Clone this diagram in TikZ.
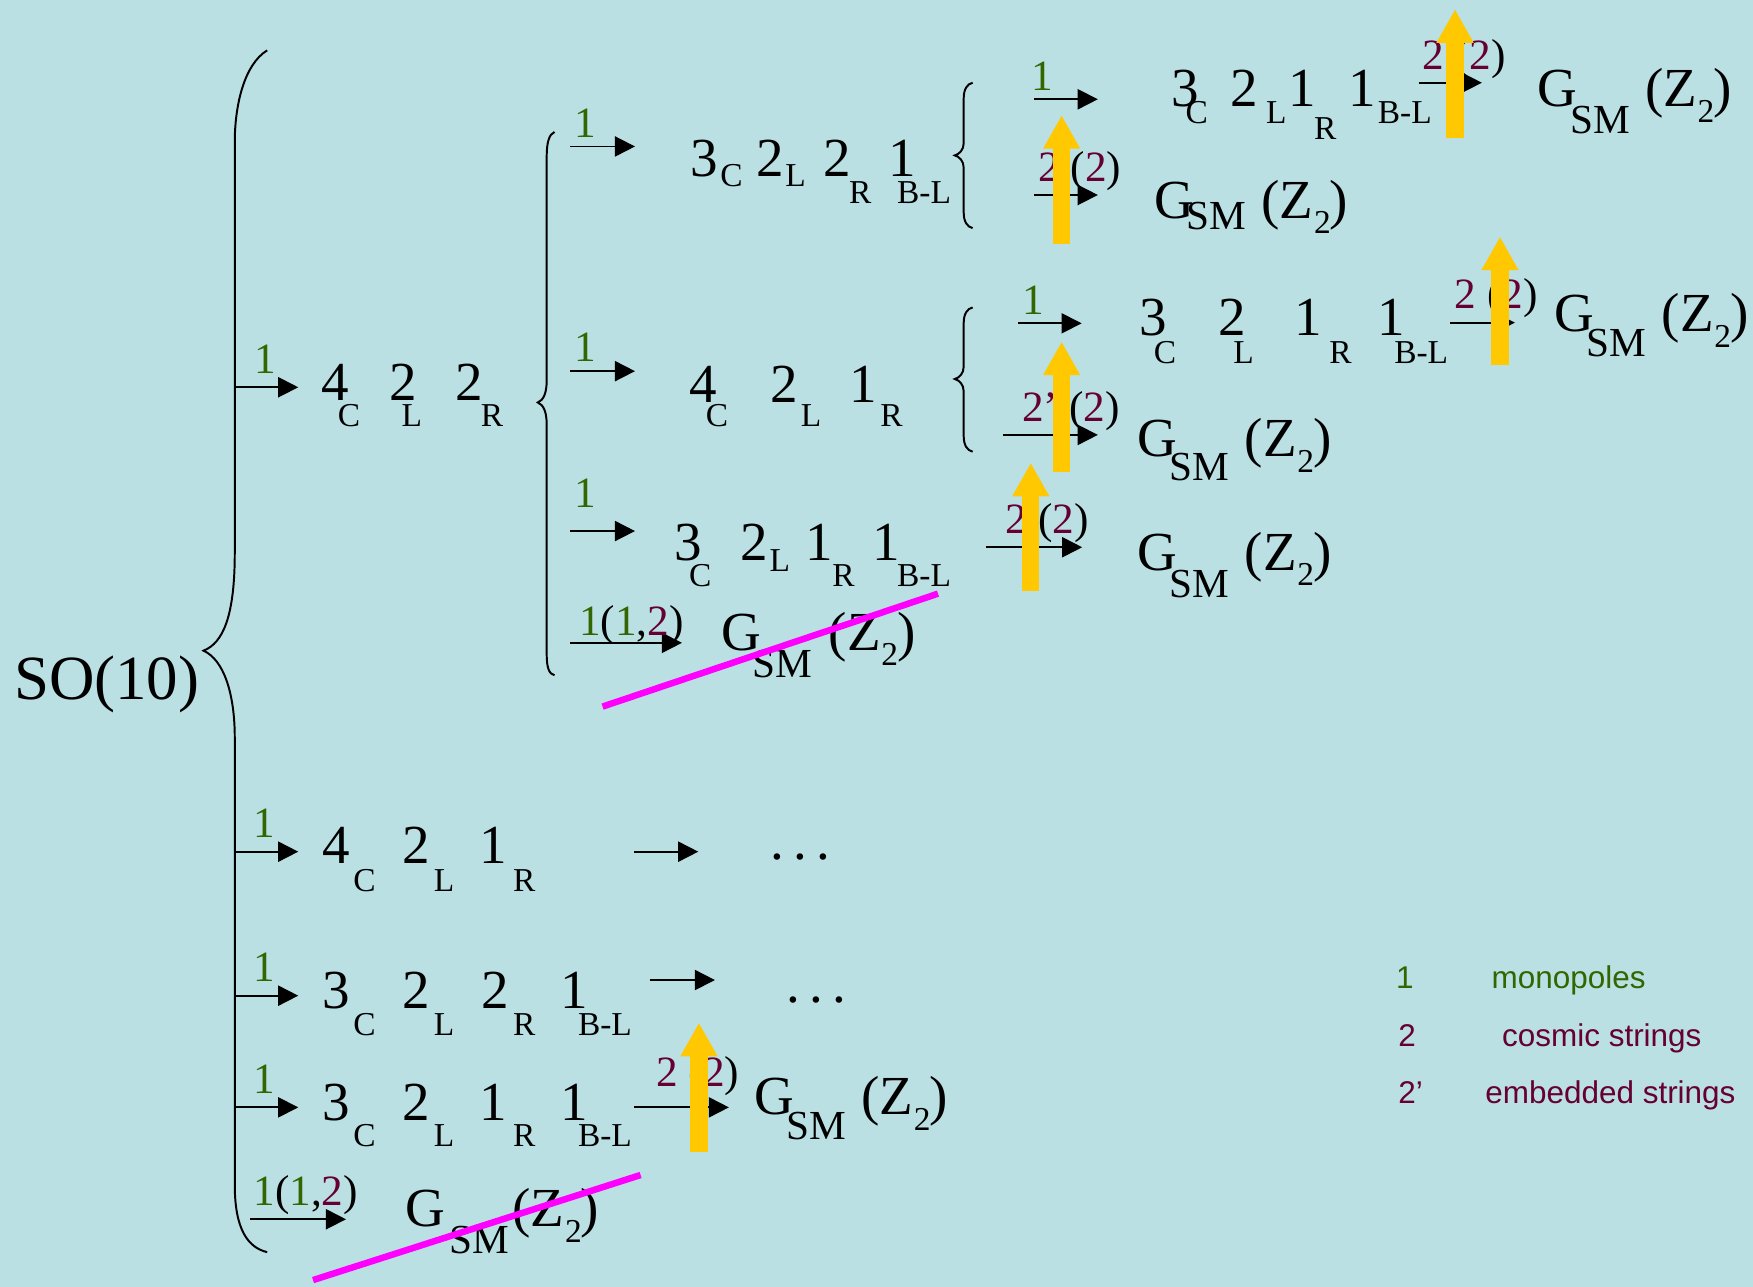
\documentclass[tikz,border=0pt]{standalone}
\usepackage{fontspec}
\setmainfont{Liberation Serif}
\setsansfont{Liberation Sans}
\usepackage{tikz}
\usetikzlibrary{arrows.meta}
\definecolor{bg}{RGB}{186,224,228}
\definecolor{mono}{RGB}{51,102,0}
\definecolor{strg}{RGB}{102,0,51}
\definecolor{warn}{RGB}{255,200,0}
\definecolor{strike}{RGB}{255,0,255}

\newdimen\pxu \pxu=0.01cm
\newcommand{\mainf}{\fontsize{14}{16}\selectfont}
\newcommand{\subf}{\fontsize{8.5}{9}\selectfont}
\newcommand{\smf}{\fontsize{10.5}{12}\selectfont}
\newcommand{\labf}{\fontsize{11}{13}\selectfont}
% glyph at offset (x, raise) from the node's base point
\newcommand{\atx}[3]{\rlap{\hspace*{#1\pxu}\raisebox{#2\pxu}{#3}}}
% digit with a lowered group label
\newcommand{\dg}[5]{\atx{#1}{0}{#2}\atx{#3}{-#4}{\subf #5}}
\newcommand{\gsm}[2][29]{\atx{0}{0}{G}\atx{#1}{-#2}{\smf SM}\atx{96}{0}{(Z}\atx{143}{-14}{\subf 2}\atx{157}{0}{)}}
\newcommand{\mlab}{\textcolor{mono}{1}}
\newcommand{\slab}[1][2]{\textcolor{strg}{#1} (\textcolor{strg}{2})}
\newcommand{\blab}{\textcolor{mono}{1}(\textcolor{mono}{1},\textcolor{strg}{2})}

\begin{document}
\begin{tikzpicture}[x=0.01cm, y=-0.01cm,
  grp/.style={anchor=base west, inner sep=0pt, font=\mainf},
  lab/.style={anchor=base west, inner sep=0pt, font=\labf},
  key/.style={anchor=base west, inner sep=0pt, font=\sffamily\fontsize{8}{9}\selectfont},
  arr/.style={-{Triangle[length=0.18cm,width=0.18cm]}, line width=0.45pt},
  brace/.style={line width=0.5pt},
  up/.style={-{Triangle[length=0.3cm,width=0.31cm]}, line width=0.155cm, draw=warn},
  cross/.style={line width=0.058cm, draw=strike},
]
\useasboundingbox (0,0) rectangle (1568,1151);
\fill[bg] (0,0) rectangle (1568,1151);

\node[grp, font=\fontsize{16}{18}\selectfont] (so10) at (12,625.8) {SO(10)};

% braces
\draw[brace] (239,45) .. controls (218,58) and (210,95) .. (210,127) -- (210,494)
  .. controls (210,550) and (200,575) .. (182,582) .. controls (200,590) and (210,620) .. (210,660)
  -- (210,1060) .. controls (210,1100) and (222,1116) .. (239,1120);
\draw[brace] (496,118) .. controls (491,120) and (489,128) .. (489,140) -- (489,340)
  .. controls (489,352) and (486,358) .. (481,360) .. controls (486,362) and (489,368) .. (489,380)
  -- (489,585) .. controls (489,597) and (491,603) .. (496,604);
\draw[brace] (870,74) .. controls (865,75) and (862,80) .. (862,88) -- (862,128)
  .. controls (862,134) and (858,138) .. (854,139) .. controls (858,140) and (862,144) .. (862,150)
  -- (862,190) .. controls (862,198) and (865,203) .. (870,204);
\draw[brace] (870,275) .. controls (865,276) and (862,281) .. (862,289) -- (862,328)
  .. controls (862,334) and (858,338) .. (854,339) .. controls (858,340) and (862,344) .. (862,350)
  -- (862,390) .. controls (862,398) and (865,403) .. (870,404);

% first level
\node[grp] (r422) at (284.7,357.8) {\dg{0}{4}{15}{24}{C}\dg{61}{2}{72}{24}{L}\dg{120}{2}{143}{24}{R}};
\node[grp] (r421) at (285.6,772.8) {\dg{0}{4}{28}{25}{C}\dg{72}{2}{100}{25}{L}\dg{141}{1}{171}{25}{R}};
\node[grp] (r3221) at (285.6,902) {\dg{0}{3}{28}{24}{C}\dg{72}{2}{100}{24}{L}\dg{143}{2}{171}{24}{R}\dg{213}{1}{229}{24}{B-L}};
\node[grp] (r3211) at (285.6,1001.8) {\dg{0}{3}{28}{24}{C}\dg{72}{2}{100}{24}{L}\dg{141}{1}{171}{24}{R}\dg{213}{1}{229}{24}{B-L}};
\node[grp] (gsmE) at (360,1097) {\gsm[40]{24}};
\node[grp] (dotsB) at (688.5,769) {.\,.\,.};
\node[grp] (dotsC) at (702.5,896.5) {.\,.\,.};
\node[grp] (gsmD) at (672,997) {\gsm{22}};

% second level
\node[grp] (s3221) at (615,158) {\dg{0}{3}{27}{9}{C}\dg{59}{2}{85}{9}{L}\dg{119}{2}{142}{24}{R}\dg{177}{1}{185}{24}{B-L}};
\node[grp] (s421) at (614,359.6) {\dg{0}{4}{15}{22}{C}\dg{73}{2}{100}{22}{L}\dg{143}{1}{171}{22}{R}};
\node[grp] (s3211) at (601,501) {\dg{0}{3}{13}{24}{C}\dg{59}{2}{85}{10}{L}\dg{117}{1}{141}{24}{R}\dg{177}{1}{199}{24}{B-L}};
\node[grp] (gsmI) at (643,581.6) {\gsm[28]{24}};
\node[grp] (gsmH) at (1015,510) {\gsm{24}};

% third level
\node[grp] (t3211a) at (1045,95.4) {\dg{0}{3}{13}{15}{C}\dg{53}{2}{85}{15}{L}\dg{105}{1}{128}{29}{R}\dg{159}{1}{185}{15}{B-L}};
\node[grp] (gsmK) at (1030,195) {\gsm{10}};
\node[grp] (t3211b) at (1016.7,299.7) {\dg{0}{3}{13}{25}{C}\dg{71}{2}{84}{25}{L}\dg{139}{1}{170}{25}{R}\dg{213}{1}{228}{25}{B-L}};
\node[grp] (gsmM) at (1015,408.5) {\gsm{21}};
\node[grp] (gsmJ) at (1373,95.4) {\gsm{24}};
\node[grp] (gsmL) at (1388,296.7) {\gsm{22}};

% arrows
\coordinate (a0) at (210,346.4);   \coordinate (a1) at (266.8,346.4);
\coordinate (b0) at (210,761.8);   \coordinate (b1) at (266.8,761.8);
\coordinate (c0) at (210,890.6);   \coordinate (c1) at (266.8,890.6);
\coordinate (d0) at (210,990.5);   \coordinate (d1) at (266.8,990.5);
\coordinate (e0) at (224,1090.6);  \coordinate (e1) at (309.5,1090.6);
\coordinate (f0) at (510,131);     \coordinate (f1) at (568,131);
\coordinate (g0) at (510,332);     \coordinate (g1) at (568,332);
\coordinate (h0) at (510,475);     \coordinate (h1) at (568,475);
\coordinate (i0) at (510,575);     \coordinate (i1) at (610,575);
\coordinate (j0) at (925,88.8);    \coordinate (j1) at (982,88.8);
\coordinate (k0) at (925,174.4);   \coordinate (k1) at (982,174.4);
\coordinate (l0) at (910.7,289.2); \coordinate (l1) at (967.5,289.2);
\coordinate (m0) at (897,389);     \coordinate (m1) at (982,389);
\coordinate (bb0) at (567.4,761.8);  \coordinate (bb1) at (624.6,761.8);
\coordinate (cc0) at (581.4,876.6);  \coordinate (cc1) at (639.5,876.6);
\coordinate (dd0) at (567.4,990.5);  \coordinate (dd1) at (652,990.5);
\coordinate (hh0) at (881.7,489.5);  \coordinate (hh1) at (968,489.5);
\coordinate (jj0) at (1269,74);      \coordinate (jj1) at (1325.5,74);
\coordinate (ll0) at (1297,288.6);   \coordinate (ll1) at (1355,288.6);

\draw[arr] (a0) -- (a1);
\draw[arr] (b0) -- (b1);
\draw[arr] (c0) -- (c1);
\draw[arr] (d0) -- (d1);
\draw[arr] (e0) -- (e1);
\draw[arr] (f0) -- (f1);
\draw[arr] (g0) -- (g1);
\draw[arr] (h0) -- (h1);
\draw[arr] (i0) -- (i1);
\draw[arr] (j0) -- (j1);
\draw[arr] (k0) -- (k1);
\draw[arr] (l0) -- (l1);
\draw[arr] (m0) -- (m1);
\draw[arr] (bb0) -- (bb1);
\draw[arr] (cc0) -- (cc1);
\draw[arr] (dd0) -- (dd1);
\draw[arr] (hh0) -- (hh1);
\draw[arr] (jj0) -- (jj1);
\draw[arr] (ll0) -- (ll1);

% defect labels
\node[lab] (la) at (227,334) {\mlab};
\node[lab] (lb) at (226,749) {\mlab};
\node[lab] (lc) at (226,878) {\mlab};
\node[lab] (ld) at (226,978) {\mlab};
\node[lab] (le) at (226,1078) {\blab};
\node[lab] (lf) at (513,123) {\mlab};
\node[lab] (lg) at (513,323.5) {\mlab};
\node[lab] (lh) at (513,453.5) {\mlab};
\node[lab] (li) at (517.5,568) {\blab};
\node[lab] (lj) at (922,81) {\mlab};
\node[lab] (lk) at (928,162.5) {\slab};
\node[lab] (ll) at (914,281.2) {\mlab};
\node[lab] (lm) at (913.7,377) {\slab[2’]};
\node[lab] (ldd) at (586.4,972) {\slab};
\node[lab] (lhh) at (899,477) {\slab};
\node[lab] (ljj) at (1272,62.6) {\slab};
\node[lab] (lll) at (1300.5,275.8) {\slab};

% inflation marks
\draw[up] (625.2,1030) -- (625.2,914.8);
\draw[up] (922,529) -- (922,414);
\draw[up] (949.6,218) -- (949.6,103);
\draw[up] (949.6,422) -- (949.6,305.6);
\draw[up] (1301.5,123.7) -- (1301.5,8.3);
\draw[up] (1341.7,326.5) -- (1341.7,211.7);

% excluded
\draw[cross] (539,632) -- (839,531);
\draw[cross] (280,1145) -- (573,1051);

% legend
\node[key, text=mono] (k1) at (1248,884) {1};
\node[key, text=mono] (k1t) at (1333.6,884) {monopoles};
\node[key, text=strg] (k2) at (1250,936) {2};
\node[key, text=strg] (k2t) at (1343,936) {cosmic strings};
\node[key, text=strg] (k3) at (1250,987) {2’};
\node[key, text=strg] (k3t) at (1328,987) {embedded strings};
\end{tikzpicture}
\end{document}
